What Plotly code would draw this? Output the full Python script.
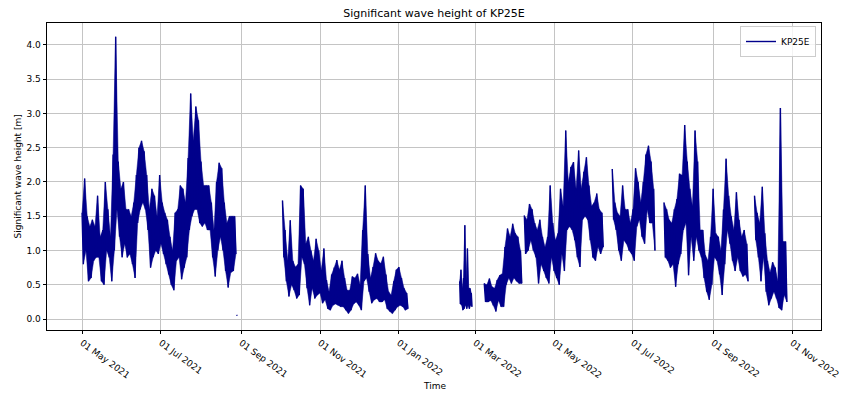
import datetime as dt
import plotly.graph_objects as go

BASE = dt.datetime(2021, 5, 1)

# Significant wave height [m] at KP25E, logged in separate runs.
# For every interval the upper and lower reading of the interval is kept.
run_start_days = [0, 119.5, 155, 292, 311, 342, 410, 450, 520]   # days after 01 May 2021
run_step_days = [2, 1, 2, 1, 2, 2, 2, 2, 2]

hs_high = [
    # May - Aug 2021
    [1.55, 2.05, 1.5, 1.35, 1.45, 1.35, 1.8, 1.2, 1.3, 2.0, 1.6, 1.2, 2.4, 4.12, 2.3,
     1.9, 2.0, 1.6, 1.6, 1.5, 1.7, 2.1, 2.5, 2.6, 2.45, 2.1, 1.6, 1.9, 1.8, 1.5,
     2.1, 1.7, 1.55, 1.45, 1.2, 1.0, 1.55, 1.6, 1.95, 1.9, 1.7, 2.35, 3.29, 2.6, 3.1,
     2.9, 2.3, 1.95, 1.95, 1.95, 1.7, 1.3, 2.0, 2.28, 2.2, 1.7, 1.4, 1.5, 1.5, 1.5],
    # late Aug 2021
    [0.06],
    # Oct 2021 - Jan 2022
    [1.73, 1.3, 0.85, 1.44, 0.85, 0.76, 0.8, 1.95, 1.9, 1.1, 1.2, 1.0, 0.85, 1.17, 1.0,
     0.71, 1.03, 0.57, 0.4, 0.65, 0.75, 0.86, 0.72, 0.85, 0.6, 0.42, 0.42, 0.62, 0.6,
     0.66, 0.5, 1.3, 1.95, 0.95, 0.6, 0.76, 0.96, 0.85, 0.81, 0.91, 0.65, 0.4, 0.35,
     0.55, 0.72, 0.76, 0.6, 0.45, 0.38],
    # Feb 2022
    [0.55, 0.72, 0.45, 0.6, 1.37, 0.55, 1.03, 0.45, 0.45, 0.38],
    # Mar - Apr 2022
    [0.52, 0.5, 0.59, 0.47, 0.45, 0.57, 0.64, 0.66, 1.05, 1.32, 1.2, 1.39, 1.25, 1.2, 1.0],
    # Apr - Jun 2022
    [1.51, 1.45, 1.68, 1.6, 1.4, 1.3, 1.45, 1.2, 1.05, 1.2, 1.95, 1.4, 1.15, 1.25, 1.9,
     1.65, 2.75, 2.0, 2.22, 2.29, 1.9, 2.46, 1.9, 2.15, 2.36, 1.95, 1.65, 1.7, 1.83, 1.6, 1.55],
    # Jun - Jul 2022
    [2.19, 1.7, 1.55, 1.5, 1.95, 1.6, 1.6, 1.4, 1.6, 2.2, 2.0, 1.7, 2.0, 2.4, 2.53, 2.3, 1.9],
    # Jul - Sep 2022
    [1.7, 1.6, 1.45, 1.4, 1.6, 1.75, 2.12, 2.1, 2.83, 2.3, 1.9, 1.65, 2.75, 2.3, 1.3,
     1.3, 0.93, 0.85, 1.2, 1.9, 1.25, 1.2, 1.0, 1.6, 2.34, 1.8, 1.5, 1.3, 1.85, 1.45,
     1.2, 1.3, 1.1],
    # Oct 2022
    [1.8, 1.55, 1.4, 1.93, 1.25, 0.85, 0.68, 0.83, 0.75, 0.55, 3.08, 1.13, 1.13],
]

hs_low = [
    [0.8, 1.0, 0.55, 0.6, 0.85, 0.9, 0.9, 0.55, 0.5, 1.0, 0.9, 0.55, 1.0, 1.6, 1.2,
     0.9, 1.1, 0.9, 0.95, 0.8, 0.6, 1.4, 1.6, 1.7, 1.6, 1.3, 0.75, 0.9, 1.0, 0.95,
     1.1, 0.95, 0.8, 0.65, 0.5, 0.42, 0.85, 0.9, 0.58, 0.75, 0.9, 1.3, 1.5, 1.6, 1.6,
     1.4, 1.35, 1.4, 1.3, 1.3, 0.9, 0.62, 1.0, 1.2, 1.0, 0.7, 0.46, 0.68, 0.7, 0.95],
    [0.05],
    [0.9, 0.55, 0.33, 0.5, 0.42, 0.3, 0.35, 0.9, 0.8, 0.45, 0.2, 0.45, 0.3, 0.35, 0.38,
     0.23, 0.28, 0.15, 0.13, 0.2, 0.22, 0.2, 0.18, 0.18, 0.13, 0.08, 0.13, 0.22, 0.25,
     0.2, 0.13, 0.55, 0.6, 0.4, 0.23, 0.28, 0.3, 0.25, 0.25, 0.28, 0.15, 0.11, 0.08,
     0.13, 0.18, 0.2, 0.18, 0.13, 0.15],
    [0.22, 0.2, 0.13, 0.15, 0.2, 0.15, 0.2, 0.15, 0.2, 0.18],
    [0.25, 0.25, 0.27, 0.2, 0.11, 0.27, 0.18, 0.18, 0.5, 0.6, 0.52, 0.6, 0.55, 0.52, 0.52],
    [0.95, 1.0, 1.15, 1.0, 0.9, 0.52, 0.8, 0.7, 0.6, 0.52, 0.9, 0.7, 0.6, 0.5, 0.95,
     0.7, 1.3, 1.35, 1.3, 1.15, 0.9, 0.76, 1.45, 1.5, 1.45, 1.15, 0.9, 0.85, 1.05, 0.95, 1.05],
    [1.45, 1.3, 1.0, 0.85, 1.15, 1.1, 1.0, 0.95, 0.85, 1.35, 1.45, 1.2, 1.1, 1.6, 1.4, 1.4, 1.0],
    [0.9, 0.85, 0.75, 0.8, 0.47, 0.8, 0.95, 1.3, 1.4, 0.64, 1.2, 0.85, 1.2, 1.0, 0.9,
     0.6, 0.4, 0.28, 0.5, 0.9, 0.85, 0.65, 0.35, 0.8, 1.3, 1.1, 0.85, 0.7, 0.9, 0.7,
     0.62, 0.65, 0.55],
    [1.15, 0.9, 0.55, 0.9, 0.4, 0.2, 0.3, 0.4, 0.3, 0.16, 0.13, 0.35, 0.25],
]

tick_dates = ["2021-05-01", "2021-07-01", "2021-09-01", "2021-11-01", "2022-01-01",
              "2022-03-01", "2022-05-01", "2022-07-01", "2022-09-01", "2022-11-01"]
tick_labels = ["01 May 2021", "01 Jul 2021", "01 Sep 2021", "01 Nov 2021", "01 Jan 2022",
               "01 Mar 2022", "01 May 2022", "01 Jul 2022", "01 Sep 2022", "01 Nov 2022"]
y_ticks = [0.0, 0.5, 1.0, 1.5, 2.0, 2.5, 3.0, 3.5, 4.0]

# Time series (zigzag between the readings) and the band each run covers;
# runs are separated by gaps (None)
times, heights = [], []
band_x, band_y = [], []
for start, step, highs, lows in zip(run_start_days, run_step_days, hs_high, hs_low):
    assert len(highs) == len(lows)
    if times:
        times.append(None)
        heights.append(None)
        band_x.append(None)
        band_y.append(None)
    t_hi = [BASE + dt.timedelta(days=start + i * step) for i in range(len(highs))]
    t_lo = [BASE + dt.timedelta(days=start + i * step + step / 2) for i in range(len(lows))]
    for th, h, tl, l in zip(t_hi, highs, t_lo, lows):
        times += [th, tl]
        heights += [h, l]
    band_x += t_hi + t_lo[::-1]
    band_y += list(highs) + list(lows)[::-1]

FONT = "DejaVu Sans"
GRID = "#c4c4c4"
NAVY = "#00008B"
FS = 9
ML, MR, MT, MB = 47, 20, 23, 64
PW, PH = 841 - ML - MR, 394 - MT - MB

fig = go.Figure()
fig.add_trace(go.Scatter(
    x=band_x, y=band_y, mode="lines", fill="toself", fillcolor=NAVY,
    line=dict(color=NAVY, width=0.5, simplify=False), connectgaps=False,
    showlegend=False, hoverinfo="skip",
))
fig.add_trace(go.Scatter(
    x=times, y=heights, mode="lines", name="KP25E",
    line=dict(color=NAVY, width=1.4, simplify=False), connectgaps=False,
))

fig.update_layout(
    width=841, height=394,
    margin=dict(l=ML, r=MR, t=MT, b=MB, autoexpand=False),
    paper_bgcolor="white", plot_bgcolor="white",
    font=dict(family=FONT, size=FS, color="black"),
    title=dict(text="Significant wave height of KP25E", x=0.5, xref="paper",
               y=1 - 13 / 394, yref="container", yanchor="middle",
               font=dict(size=11, family=FONT, color="black")),
    showlegend=True,
    legend=dict(x=1 - 5 / PW, xanchor="right", y=1 - 3 / PH, yanchor="top",
                bgcolor="rgba(255,255,255,0.8)", bordercolor="#cccccc", borderwidth=1,
                font=dict(size=FS, family=FONT), itemwidth=30,
                tracegroupgap=0),
)

fig.update_xaxes(
    type="date", automargin=False, ticklabeloverflow="allow",
    range=["2021-04-03 21:36", "2022-11-23 09:36"],
    tickmode="array", tickvals=tick_dates, ticktext=tick_labels, tickangle=36,
    ticks="outside", ticklen=3.5, tickwidth=0.8, tickcolor="black",
    showgrid=True, gridcolor=GRID, gridwidth=0.8,
    showline=True, linecolor="black", linewidth=0.8, mirror=True,
    zeroline=False,
)
fig.update_yaxes(
    automargin=False,
    range=[-0.16, 4.32],
    tickmode="array", tickvals=y_ticks, ticktext=[f"{v:.1f}" for v in y_ticks],
    ticks="outside", ticklen=3.5, tickwidth=0.8, tickcolor="black",
    showgrid=True, gridcolor=GRID, gridwidth=0.8,
    showline=True, linecolor="black", linewidth=0.8, mirror=True,
    zeroline=False,
)

fig.add_annotation(text="Time", xref="paper", yref="paper", x=0.5, y=-56 / PH,
                   yanchor="middle", showarrow=False, font=dict(size=FS, family=FONT))
fig.add_annotation(text="Significant wave height [m]", xref="paper", yref="paper",
                   x=-30 / PW, y=0.5, xanchor="center", textangle=-90, showarrow=False,
                   font=dict(size=FS, family=FONT))

fig.write_html("out.html")
